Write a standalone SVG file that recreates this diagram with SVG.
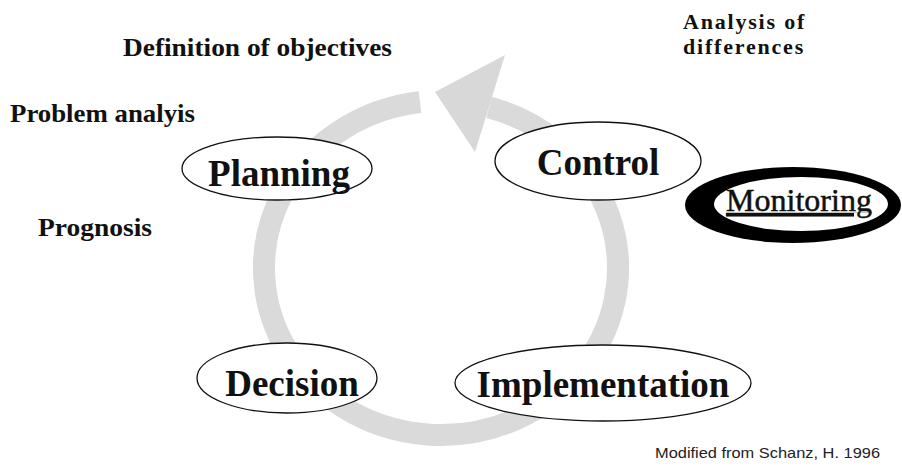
<svg xmlns="http://www.w3.org/2000/svg" width="902" height="473" viewBox="0 0 902 473">
<style>
.node{fill:#fff;stroke:#111;stroke-width:1.3}
.big{font-family:"Liberation Serif","Times New Roman",serif;font-weight:bold;font-size:37px;fill:#111;text-anchor:middle}
.lab{font-family:"Liberation Serif","Times New Roman",serif;font-weight:bold;font-size:26px;fill:#111}
.ann{font-family:"Liberation Serif","Times New Roman",serif;font-weight:bold;font-size:22px;fill:#111;letter-spacing:1.8px}
.credit{font-family:"Liberation Sans",Arial,sans-serif;font-size:15px;fill:#222}
</style>
<rect width="902" height="473" fill="#fff"/>
<g id="connectors">
  <path d="M 420 102.18 A 177 167 0 1 0 489 107.26" fill="none" stroke="#dadada" stroke-width="22"/>
  <polygon points="435,92 505,55 475,152" fill="#d8d8d8"/>
</g>
<g id="planning">
  <ellipse class="node" cx="277" cy="168.5" rx="95" ry="31.5"/>
  <text class="big" x="279" y="186">Planning</text>
</g>
<g id="control">
  <ellipse class="node" cx="598" cy="161" rx="103" ry="39"/>
  <text class="big" x="598" y="175">Control</text>
</g>
<g id="decision">
  <ellipse class="node" cx="287" cy="378" rx="90" ry="35"/>
  <text class="big" x="292" y="396">Decision</text>
</g>
<g id="implementation">
  <ellipse class="node" cx="603" cy="383" rx="148" ry="38"/>
  <text class="big" x="603" y="397">Implementation</text>
</g>
<g id="monitoring">
  <ellipse cx="793" cy="205" rx="108" ry="38" fill="#000"/>
  <ellipse cx="801" cy="204" rx="87" ry="27" fill="#fff"/>
  <text x="799" y="211" font-family="Liberation Serif,'Times New Roman',serif" font-size="32" fill="#111" stroke="#111" stroke-width="0.5" text-anchor="middle" text-decoration="underline">Monitoring</text>
</g>
<g id="labels">
  <text class="lab" x="123" y="56" textLength="269" lengthAdjust="spacingAndGlyphs">Definition of objectives</text>
  <text class="lab" x="10" y="122" textLength="185" lengthAdjust="spacingAndGlyphs">Problem analyis</text>
  <text class="lab" x="38" y="236" textLength="114" lengthAdjust="spacingAndGlyphs">Prognosis</text>
  <text class="ann" x="683" y="29">Analysis of</text>
  <text class="ann" x="683" y="54">differences</text>
  <text class="credit" x="655" y="458" textLength="225" lengthAdjust="spacingAndGlyphs">Modified from Schanz, H. 1996</text>
</g>
</svg>
